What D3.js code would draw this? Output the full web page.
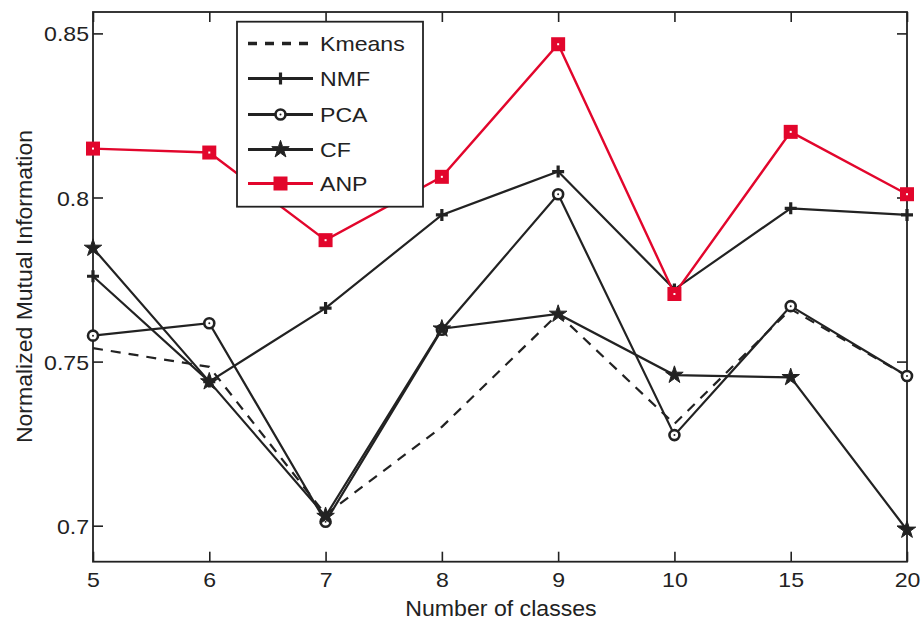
<!DOCTYPE html>
<html>
<head>
<meta charset="utf-8">
<script src="https://cdn.jsdelivr.net/npm/d3@7"></script>
<style>
  body { margin: 0; background: #fff; }
  text { font-family: "Liberation Sans", Arial, Helvetica, sans-serif; fill: #222; }
</style>
</head>
<body>
<svg id="chart" width="922" height="620"></svg>
<script>
// ---- data ----
const categories = ["5", "6", "7", "8", "9", "10", "15", "20"];
const kmeans = [0.7541, 0.7484, 0.7034, 0.7301, 0.7645, 0.7310, 0.7660, 0.7456];
const nmf    = [0.7760, 0.7439, 0.7663, 0.7947, 0.8079, 0.7720, 0.7967, 0.7947];
const pca    = [0.7579, 0.7617, 0.7012, 0.7597, 0.8010, 0.7276, 0.7669, 0.7456];
const cf     = [0.7846, 0.7439, 0.7029, 0.7600, 0.7645, 0.7459, 0.7452, 0.6987];
const anp    = [0.8149, 0.8137, 0.7870, 0.8063, 0.8467, 0.7706, 0.8200, 0.8010];
const yTicks = [0.7, 0.75, 0.8, 0.85];
const yTickLabels = ["0.7", "0.75", "0.8", "0.85"];
const seriesNames = ["Kmeans", "NMF", "PCA", "CF", "ANP"];

const RED = "#e2062c", BLACK = "#222";
const series = [
  { name: seriesNames[0], values: kmeans, color: BLACK, dash: "10,8", marker: null },
  { name: seriesNames[1], values: nmf,    color: BLACK, dash: null, marker: "plus" },
  { name: seriesNames[2], values: pca,    color: BLACK, dash: null, marker: "circle" },
  { name: seriesNames[3], values: cf,     color: BLACK, dash: null, marker: "star" },
  { name: seriesNames[4], values: anp,    color: RED,   dash: null, marker: "square" }
];

const L = 93, R = 907, T = 12, B = 561.7;
const svg = d3.select("#chart");

const x = d3.scalePoint().domain(categories).range([L, R]);
const y = d3.scaleLinear().domain([0.68903, 0.85652]).range([B, T]);

function stretch(sel, k) {
  sel.each(function () {
    const len = this.getComputedTextLength();
    d3.select(this).attr("textLength", len * k).attr("lengthAdjust", "spacingAndGlyphs");
  });
}

// axes (box with inward ticks on all sides)
const tickLen = 10;
const gAx = svg.append("g");
const leftAxis = d3.axisLeft(y).tickValues(yTicks).tickSize(-tickLen).tickFormat((d, i) => yTickLabels[i]).tickPadding(4);
const rightAxis = d3.axisRight(y).tickValues(yTicks).tickSize(-tickLen).tickFormat("");
const bottomAxis = d3.axisBottom(x).tickSize(-tickLen).tickPadding(10);
const topAxis = d3.axisTop(x).tickSize(-tickLen).tickFormat("");

const gl = gAx.append("g").attr("transform", `translate(${L},0)`).call(leftAxis);
const gr = gAx.append("g").attr("transform", `translate(${R},0)`).call(rightAxis);
const gb = gAx.append("g").attr("transform", `translate(0,${B})`).call(bottomAxis);
const gt = gAx.append("g").attr("transform", `translate(0,${T})`).call(topAxis);
[gl, gr, gb, gt].forEach(g => {
  g.select(".domain").remove();
  g.selectAll(".tick line").attr("stroke", BLACK).attr("stroke-width", 1.6);
  g.selectAll(".tick text").attr("font-size", 21).attr("fill", "#222")
    .attr("font-family", "Liberation Sans, Arial, sans-serif");
});
gl.selectAll(".tick text").attr("dy", "0.36em");
gb.selectAll(".tick text").attr("dy", "0.71em");
stretch(gl.selectAll(".tick text"), 1.1);
stretch(gb.selectAll(".tick text"), 1.1);

svg.append("rect").attr("x", L).attr("y", T).attr("width", R - L).attr("height", B - T)
  .attr("fill", "none").attr("stroke", BLACK).attr("stroke-width", 1.8);

// axis labels
const xl = svg.append("text").attr("x", (L + R) / 2 + 1).attr("y", 615.5).attr("text-anchor", "middle")
  .attr("font-size", 22).text("Number of classes");
stretch(xl, 1.05);
const yl = svg.append("text").attr("transform", "translate(32,286.5) rotate(-90)").attr("text-anchor", "middle")
  .attr("font-size", 22).text("Normalized Mutual Information");
stretch(yl, 1.045);

// markers
function drawMarker(g, type, cx, cy, color, legend) {
  if (type === "plus") {
    g.append("path").attr("d", `M${cx - 6},${cy}H${cx + 6}M${cx},${cy - 6}V${cy + 6}`)
      .attr("stroke", color).attr("stroke-width", 3.2).attr("fill", "none");
  } else if (type === "circle") {
    g.append("circle").attr("cx", cx).attr("cy", cy).attr("r", 5)
      .attr("fill", "white").attr("stroke", color).attr("stroke-width", 2.6);
    g.append("circle").attr("cx", cx).attr("cy", cy).attr("r", 1).attr("fill", color);
  } else if (type === "star") {
    g.append("path").attr("d", d3.symbol().type(d3.symbolStar).size(95)())
      .attr("transform", `translate(${cx},${cy})`).attr("fill", color).attr("stroke", color).attr("stroke-width", 1);
  } else if (type === "square") {
    if (legend) {
      g.append("rect").attr("x", cx - 7).attr("y", cy - 7).attr("width", 14).attr("height", 14).attr("fill", color);
    } else {
      g.append("rect").attr("x", cx - 4).attr("y", cy - 4).attr("width", 8).attr("height", 8)
        .attr("fill", "white").attr("stroke", color).attr("stroke-width", 6);
    }
  }
}

const line = d3.line().x((d, i) => x(categories[i])).y(d => y(d));
const plot = svg.append("g");
series.forEach(s => {
  plot.append("path").datum(s.values).attr("d", line)
    .attr("fill", "none").attr("stroke", s.color).attr("stroke-width", s.color === RED ? 2.4 : 2.2)
    .attr("stroke-dasharray", s.dash);
});
series.forEach(s => {
  if (!s.marker) return;
  s.values.forEach((v, i) => drawMarker(plot, s.marker, x(categories[i]), y(v), s.color, false));
});

// legend
const lg = svg.append("g");
lg.append("rect").attr("x", 237).attr("y", 21.7).attr("width", 186).attr("height", 185)
  .attr("fill", "white").attr("stroke", BLACK).attr("stroke-width", 1.8);
const rowY = [43.5, 78.5, 114.5, 149.5, 183.5];
series.forEach((s, i) => {
  const yy = rowY[i];
  lg.append("line").attr("x1", 248).attr("x2", 313).attr("y1", yy).attr("y2", yy)
    .attr("stroke", s.color).attr("stroke-width", s.dash ? 3.4 : 3.2).attr("stroke-dasharray", s.dash ? "9,8" : null);
  if (s.marker) drawMarker(lg, s.marker, 280.5, yy, s.color, true);
  const t = lg.append("text").attr("x", 320).attr("y", yy + 7.5).attr("font-size", 21).text(s.name);
  stretch(t, 1.1);
});
</script>
</body>
</html>
